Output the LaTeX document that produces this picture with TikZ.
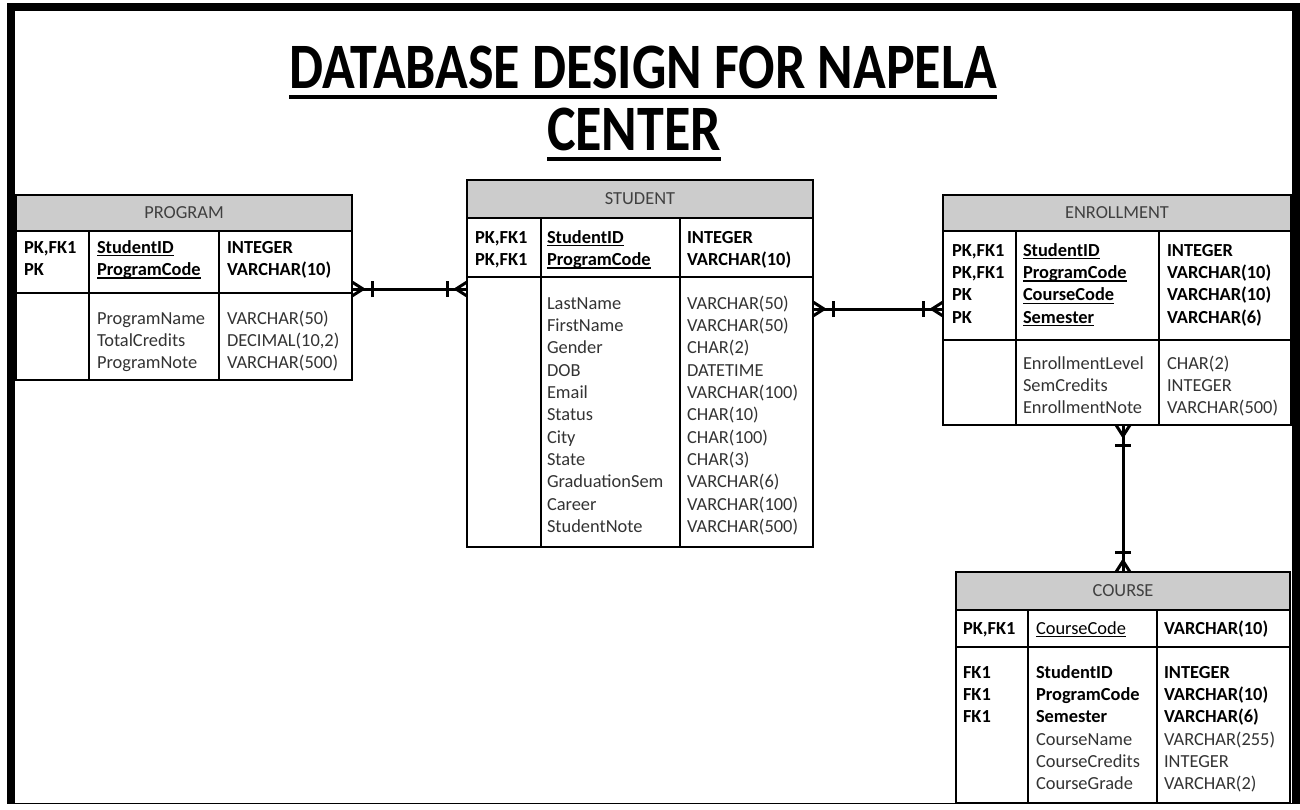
\documentclass[tikz,border=0pt]{standalone}
\usepackage{fontspec}
\setmainfont{Carlito}
\usetikzlibrary{calc}
\definecolor{headgray}{RGB}{204,204,204}
\newcommand\keyul[1]{\setbox0\hbox{#1}\rlap{\rule[-3.4pt]{\wd0}{1.3pt}}\box0}
\newcommand\colrows[5]{%
  \foreach \t [count=\i] in {#5} \node[#2] (#1\i) at (#3,{#4+22.35*(\i-1)}) {\t};}
\newcommand\crowfoot[3]{%
  \draw[crow] ($(#1)+({-7*#3},{7*#2})$) -- ($(#1)+({11*#2},{11*#3})$) -- ($(#1)+({7*#3},{-7*#2})$);
  \draw[crow] ($(#1)+({20*#2-8*#3},{20*#3+8*#2})$) -- ($(#1)+({20*#2+8*#3},{20*#3-8*#2})$);}
\begin{document}
\begin{tikzpicture}[x=1pt,y=-1pt,
  tbox/.style={draw=black, line width=1.4pt, inner sep=0pt, outer sep=0pt, anchor=north west},
  thead/.style={tbox, fill=headgray, text=black!75, font=\fontsize{18.4}{22.3}\selectfont},
  cell/.style={anchor=base west, inner sep=0pt, outer sep=0pt, text=black!80, font=\fontsize{18.4}{22.3}\selectfont},
  key/.style={cell, text=black, font=\fontsize{18.4}{22.3}\selectfont\bfseries},
  ulcell/.style={cell, text=black},
  divider/.style={line width=1.4pt},
  rel/.style={line width=3pt},
  crow/.style={line width=3pt, line join=round},
  titletxt/.style={anchor=base, inner sep=0pt, outer sep=0pt, yscale=1.2, font=\fontsize{54}{66}\selectfont\bfseries},
  tline/.style={line width=4.5pt}]
\useasboundingbox (0,0) rectangle (1300,809);
\fill[white] (0,0) rectangle (1300,809);
% frame
\fill[black] (7,3) rectangle (1300,11);
\fill[black] (7,3) rectangle (15,804);
\fill[black] (1292,3) rectangle (1300,804);
\draw[line width=1.5pt] (7,803.5) -- (1300,803.5);

% title
\node[titletxt] (t1) at (643,88) {DATABASE DESIGN FOR NAPELA};
\node[titletxt] (t2) at (634,150) {CENTER};
\draw[tline] ($(t1.base west)+(0,9)$) -- ($(t1.base east)+(0,9)$);
\draw[tline] ($(t2.base west)+(0,9)$) -- ($(t2.base east)+(0,9)$);

% PROGRAM
\node[thead, minimum width=336pt, minimum height=36pt] (programh) at (16,195) {PROGRAM};
\node[tbox, minimum width=336pt, minimum height=185pt] (program) at (16,195) {};
\draw[divider] (16,293) -- (352,293);
\draw[divider] (89,231) -- (89,380);
\draw[divider] (219,231) -- (219,380);
\colrows{pk}{key}{24}{253}{{PK,FK1},PK}
\colrows{pn}{key}{97}{253}{\keyul{StudentID},\keyul{ProgramCode}}
\colrows{pt}{key}{227}{253}{INTEGER,VARCHAR(10)}
\colrows{pa}{cell}{97}{324}{ProgramName,TotalCredits,ProgramNote}
\colrows{pb}{cell}{227}{324}{VARCHAR(50),{DECIMAL(10,2)},VARCHAR(500)}

% STUDENT
\node[thead, minimum width=346pt, minimum height=38pt] (studenth) at (467,180) {STUDENT};
\node[tbox, minimum width=346pt, minimum height=367pt] (student) at (467,180) {};
\draw[divider] (467,277) -- (813,277);
\draw[divider] (541,218) -- (541,547);
\draw[divider] (680,218) -- (680,547);
\colrows{sk}{key}{475}{243}{{PK,FK1},{PK,FK1}}
\colrows{sn}{key}{547}{243}{\keyul{StudentID},\keyul{ProgramCode}}
\colrows{st}{key}{687}{243}{INTEGER,VARCHAR(10)}
\colrows{sa}{cell}{547}{309}{LastName,FirstName,Gender,DOB,Email,Status,City,State,GraduationSem,Career,StudentNote}
\colrows{sb}{cell}{687}{309}{VARCHAR(50),VARCHAR(50),CHAR(2),DATETIME,VARCHAR(100),CHAR(10),CHAR(100),CHAR(3),VARCHAR(6),VARCHAR(100),VARCHAR(500)}

% ENROLLMENT
\node[thead, minimum width=348pt, minimum height=36pt] (enrollh) at (943,195) {ENROLLMENT};
\node[tbox, minimum width=348pt, minimum height=230pt] (enroll) at (943,195) {};
\draw[divider] (943,340) -- (1291,340);
\draw[divider] (1016,231) -- (1016,425);
\draw[divider] (1159,231) -- (1159,425);
\colrows{ek}{key}{952}{256}{{PK,FK1},{PK,FK1},PK,PK}
\colrows{en}{key}{1023}{256}{\keyul{StudentID},\keyul{ProgramCode},\keyul{CourseCode},\keyul{Semester}}
\colrows{et}{key}{1167}{256}{INTEGER,VARCHAR(10),VARCHAR(10),VARCHAR(6)}
\colrows{ea}{cell}{1023}{369}{EnrollmentLevel,SemCredits,EnrollmentNote}
\colrows{eb}{cell}{1167}{369}{CHAR(2),INTEGER,VARCHAR(500)}

% COURSE
\node[thead, minimum width=334pt, minimum height=38pt] (courseh) at (956,572) {COURSE};
\node[tbox, minimum width=334pt, minimum height=231pt] (course) at (956,572) {};
\draw[divider] (956,647) -- (1290,647);
\draw[divider] (1028,610) -- (1028,803);
\draw[divider] (1157,610) -- (1157,803);
\node[key] (ck1) at (963,634) {PK,FK1};
\node[ulcell] (cn1) at (1036,634) {\keyul{CourseCode}};
\node[key] (ct1) at (1164,634) {VARCHAR(10)};
\colrows{cf}{key}{963}{678}{FK1,FK1,FK1}
\colrows{cg}{key}{1036}{678}{StudentID,ProgramCode,Semester}
\colrows{ch}{key}{1164}{678}{INTEGER,VARCHAR(10),VARCHAR(6)}
\colrows{ci}{cell}{1036}{745}{CourseName,CourseCredits,CourseGrade}
\colrows{cj}{cell}{1164}{745}{VARCHAR(255),INTEGER,VARCHAR(2)}

% relationships
\coordinate (ps1) at (program.east |- 0,289);
\coordinate (ps2) at (student.west |- 0,289);
\draw[rel] (ps1) -- (ps2);
\crowfoot{ps1}{1}{0}
\crowfoot{ps2}{-1}{0}

\coordinate (se1) at (student.east |- 0,309);
\coordinate (se2) at (enroll.west |- 0,309);
\draw[rel] (se1) -- (se2);
\crowfoot{se1}{1}{0}
\crowfoot{se2}{-1}{0}

\coordinate (ec1) at (enroll.south -| 1123,0);
\coordinate (ec2) at (course.north -| 1123,0);
\draw[rel] (ec1) -- (ec2);
\crowfoot{ec1}{0}{1}
\crowfoot{ec2}{0}{-1}
\end{tikzpicture}
\end{document}
